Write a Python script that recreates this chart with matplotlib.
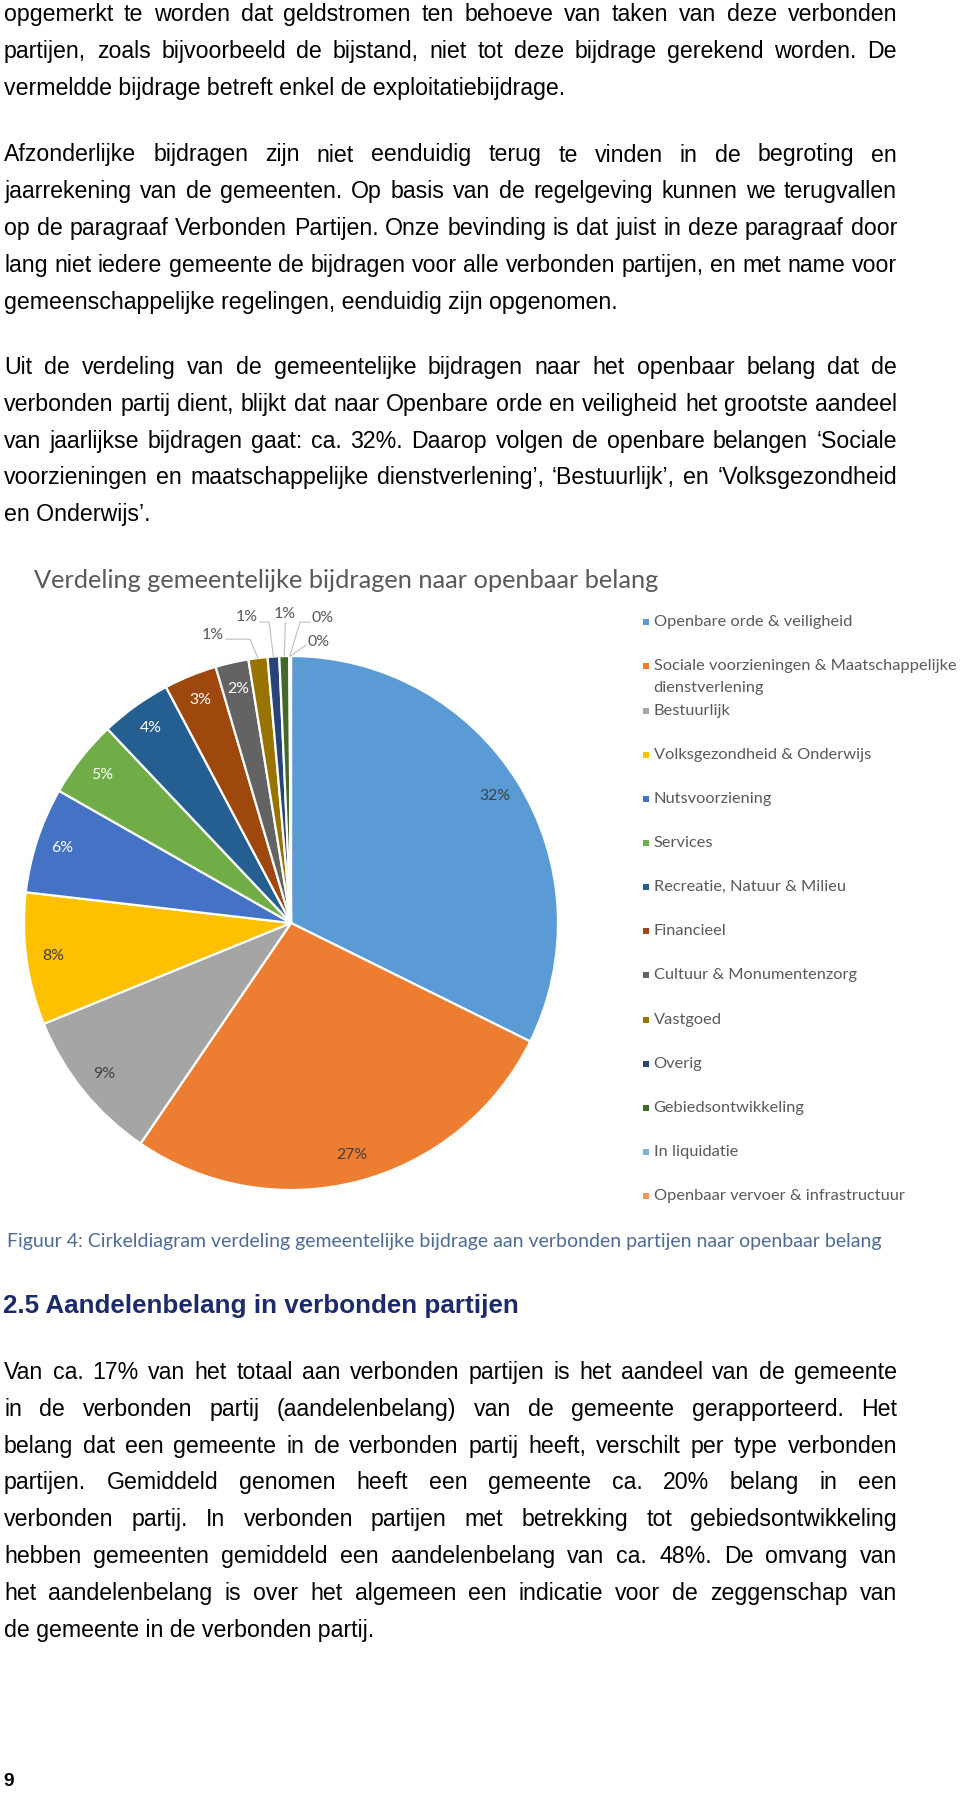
import math
import matplotlib
matplotlib.use("Agg")
import matplotlib.pyplot as plt
from matplotlib.patches import Rectangle

# =========================
# Data
# =========================
categories = [
    "Openbare orde & veiligheid",
    "Sociale voorzieningen & Maatschappelijke\ndienstverlening",
    "Bestuurlijk",
    "Volksgezondheid & Onderwijs",
    "Nutsvoorziening",
    "Services",
    "Recreatie, Natuur & Milieu",
    "Financieel",
    "Cultuur & Monumentenzorg",
    "Vastgoed",
    "Overig",
    "Gebiedsontwikkeling",
    "In liquidatie",
    "Openbaar vervoer & infrastructuur",
]
shares = [32.3, 27.2, 9.3, 8.0, 6.4, 4.7, 4.3, 3.2, 2.0, 1.15, 0.7, 0.6, 0.05, 0.05]

colors = ["#5B9BD5", "#ED7D31", "#A5A5A5", "#FFC000", "#4472C4", "#70AD47",
          "#255E91", "#9E480E", "#636363", "#997300", "#264478", "#43682B",
          "#7CAFDD", "#F1975A"]

chart_title = "Verdeling gemeentelijke bijdragen naar openbaar belang"
caption = ("Figuur 4: Cirkeldiagram verdeling gemeentelijke bijdrage aan "
           "verbonden partijen naar openbaar belang")
heading = "2.5 Aandelenbelang in verbonden partijen"
page_number = "9"

para1 = [
    "opgemerkt te worden dat geldstromen ten behoeve van taken van deze verbonden",
    "partijen, zoals bijvoorbeeld de bijstand, niet tot deze bijdrage gerekend worden. De",
    "vermeldde bijdrage betreft enkel de exploitatiebijdrage.",
]
para2 = [
    "Afzonderlijke bijdragen zijn niet eenduidig terug te vinden in de begroting en",
    "jaarrekening van de gemeenten. Op basis van de regelgeving kunnen we terugvallen",
    "op de paragraaf Verbonden Partijen. Onze bevinding is dat juist in deze paragraaf door",
    "lang niet iedere gemeente de bijdragen voor alle verbonden partijen, en met name voor",
    "gemeenschappelijke regelingen, eenduidig zijn opgenomen.",
]
para3 = [
    "Uit de verdeling van de gemeentelijke bijdragen naar het openbaar belang dat de",
    "verbonden partij dient, blijkt dat naar Openbare orde en veiligheid het grootste aandeel",
    "van jaarlijkse bijdragen gaat: ca. 32%. Daarop volgen de openbare belangen \u2018Sociale",
    "voorzieningen en maatschappelijke dienstverlening\u2019, \u2018Bestuurlijk\u2019, en \u2018Volksgezondheid",
    "en Onderwijs\u2019.",
]
para4 = [
    "Van ca. 17% van het totaal aan verbonden partijen is het aandeel van de gemeente",
    "in de verbonden partij (aandelenbelang) van de gemeente gerapporteerd. Het",
    "belang dat een gemeente in de verbonden partij heeft, verschilt per type verbonden",
    "partijen. Gemiddeld genomen heeft een gemeente ca. 20% belang in een",
    "verbonden partij. In verbonden partijen met betrekking tot gebiedsontwikkeling",
    "hebben gemeenten gemiddeld een aandelenbelang van ca. 48%. De omvang van",
    "het aandelenbelang is over het algemeen een indicatie voor de zeggenschap van",
    "de gemeente in de verbonden partij.",
]

# =========================
# Page setup (pixel helpers)
# =========================
W, H = 960, 1793
fig = plt.figure(figsize=(W / 100, H / 100), dpi=100)
fig.patch.set_facecolor("white")
renderer = fig.canvas.get_renderer()


def fx(x):
    return x / W


def fy(y):
    return 1 - y / H


def fit_width(txt, target):
    w = txt.get_window_extent(renderer).width
    txt.set_fontsize(txt.get_fontsize() * target / w)
    return txt.get_fontsize()


BODY = dict(family="Liberation Sans", size=16.7, color="black")
LEFT, RIGHT = 4, 897
PITCH = 36.8
BASE = 6.0  # baseline offset below the visual line centre (px)


def put_line(text, y, justify):
    yb = fy(y + BASE)
    if not justify:
        fig.text(fx(LEFT), yb, text, va="baseline", ha="left", **BODY)
        return
    words = text.split(" ")
    arts = [fig.text(0, yb, w, va="baseline", ha="left", **BODY) for w in words]
    widths = [a.get_window_extent(renderer).width for a in arts]
    gap = (RIGHT - LEFT - sum(widths)) / (len(words) - 1)
    x = LEFT
    for a, w in zip(arts, widths):
        a.set_x(fx(x))
        x += w + gap


def put_paragraph(lines, y0):
    for i, line in enumerate(lines):
        put_line(line, y0 + i * PITCH, justify=(i < len(lines) - 1))


# =========================
# Body text
# =========================
put_paragraph(para1, 15)
put_paragraph(para2, 155.5)
put_paragraph(para3, 368)

# =========================
# Chart
# =========================
CX, CY, R = 291, 923, 267
ax = fig.add_axes([fx(CX - R), fy(CY + R), 2 * R / W, 2 * R / H])
wedges, _ = ax.pie(shares, colors=colors, startangle=90, counterclock=False,
                   wedgeprops=dict(edgecolor="white", linewidth=1.6))
ax.set_xlim(-1, 1)
ax.set_ylim(-1, 1)
ax.set_aspect("equal")
ax.axis("off")

t = fig.text(fx(34), fy(581), chart_title, family="Lato", size=16,
             color="#595959", va="center", ha="left")
fit_width(t, 629)

# inside labels
probe = ax.text(0, 0, "27%", family="Lato", size=12)
lab_size = fit_width(probe, 31)
probe.remove()

for i, (w, v) in enumerate(zip(wedges, shares)):
    if i > 8:
        break
    mid = math.radians((w.theta1 + w.theta2) / 2)
    r = 0.9
    col = "#404040" if i < 4 else "white"
    ax.text(r * math.cos(mid), r * math.sin(mid), f"{round(v)}%", family="Lato",
            size=lab_size, color=col, ha="center", va="center")

# outside labels with leader lines (text pos, ha, leader points) in axis units
outside = {
    9: ((-0.251, 1.079), "right", [(-0.243, 1.063), (-0.154, 1.063)]),
    10: ((-0.124, 1.145), "right", [(-0.116, 1.127), (-0.082, 1.127)]),
    11: ((-0.024, 1.157), "center", [(-0.021, 1.124)]),
    12: ((0.075, 1.141), "left", [(0.071, 1.127), (0.034, 1.127)]),
    13: ((0.060, 1.053), "left", [(0.056, 1.041)]),
}
for i, ((tx, ty), ha, pts) in outside.items():
    w = wedges[i]
    mid = math.radians((w.theta1 + w.theta2) / 2)
    pts = pts + [(math.cos(mid), math.sin(mid))]
    ax.plot([p[0] for p in pts], [p[1] for p in pts], color="#BFBFBF",
            lw=0.8, clip_on=False)
    ax.text(tx, ty, f"{round(shares[i])}%", family="Lato", size=lab_size,
            color="#595959", ha=ha, va="center", clip_on=False)

# legend (manual, Excel-like)
probe = fig.text(0, 0, "Sociale voorzieningen & Maatschappelijke", family="Lato", size=12)
leg_size = fit_width(probe, 301)
probe.remove()

LEG_Y0, LEG_STEP, LEG_LINE = 622.3, 44.15, 21.3
for i, (name, c) in enumerate(zip(categories, colors)):
    y = LEG_Y0 + i * LEG_STEP
    fig.add_artist(Rectangle((fx(642.5), fy(y + 3)), 6 / W, 6 / H,
                             transform=fig.transFigure, facecolor=c, edgecolor="none"))
    for j, part in enumerate(name.split("\n")):
        fig.text(fx(653.5), fy(y + j * LEG_LINE), part, family="Lato",
                 size=leg_size, color="#595959", va="center", ha="left")

# =========================
# Caption, heading, last paragraph
# =========================
t = fig.text(fx(7), fy(1241.5), caption, family="Lato", size=12,
             color="#4e6b95", va="center", ha="left")
fit_width(t, 873)

t = fig.text(fx(3), fy(1306), heading, family="Liberation Sans", weight="bold",
             size=18.8, color="#1b2a6b", va="center", ha="left")
fit_width(t, 517)

put_paragraph(para4, 1373)

fig.text(fx(3), fy(1782), page_number, family="Liberation Sans", weight="bold",
         size=13.8, color="black", va="center", ha="left")

fig.savefig("out.png", dpi=100, facecolor="white")
